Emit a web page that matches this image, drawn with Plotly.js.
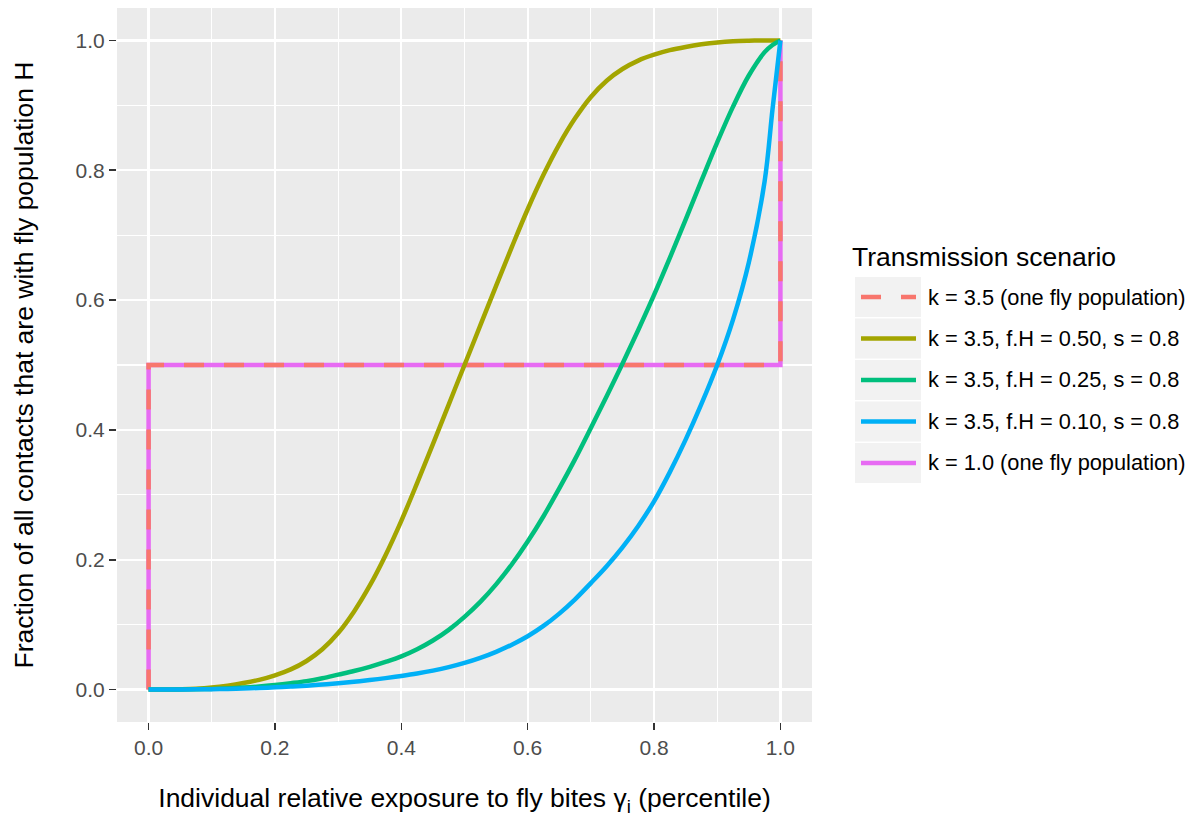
<!DOCTYPE html>
<html>
<head>
<meta charset="utf-8">
<script src="https://cdn.plot.ly/plotly-3.0.1.min.js"></script>
<style>html,body{margin:0;padding:0;background:#fff;}</style>
</head>
<body>
<div id="chart" style="width:1190px;height:819px;"></div>
<script>
// ---- data ----
const xGrid = [0, 0.025, 0.05, 0.075, 0.1, 0.125, 0.15, 0.175, 0.2, 0.225, 0.25, 0.275, 0.3, 0.325, 0.35, 0.375, 0.4, 0.425, 0.45, 0.475, 0.5,
               0.525, 0.55, 0.575, 0.6, 0.625, 0.65, 0.675, 0.7, 0.725, 0.75, 0.775, 0.8, 0.825, 0.85, 0.875, 0.9, 0.925, 0.95, 0.975, 0.9875, 1.0];
const yFH050 = [0, 0, 0.0004, 0.0012, 0.003, 0.006, 0.010, 0.015, 0.022, 0.031, 0.044, 0.062, 0.087, 0.120, 0.160, 0.207, 0.260, 0.318, 0.378, 0.439, 0.5,
                0.561, 0.622, 0.682, 0.740, 0.793, 0.840, 0.880, 0.913, 0.938, 0.956, 0.969, 0.978, 0.985, 0.990, 0.994, 0.997, 0.9988, 0.9996, 1.0, 1.0, 1.0];
const yFH025 = [0, 0, 0.0002, 0.0005, 0.001, 0.0018, 0.003, 0.0047, 0.007, 0.0098, 0.013, 0.0175, 0.023, 0.0285, 0.035, 0.0425, 0.051, 0.062, 0.0755, 0.092, 0.112,
                0.135, 0.162, 0.193, 0.228, 0.267, 0.310, 0.355, 0.403, 0.452, 0.502, 0.554, 0.608, 0.665, 0.724, 0.784, 0.843, 0.898, 0.946, 0.982, 0.993, 1.0];
const yFH010 = [0, 0, 0.0001, 0.0003, 0.0006, 0.001, 0.0016, 0.0024, 0.0034, 0.0046, 0.006, 0.0077, 0.0097, 0.012, 0.0146, 0.0176, 0.021, 0.0248, 0.0292, 0.0345, 0.041,
                0.0488, 0.0581, 0.0691, 0.0821, 0.098, 0.117, 0.139, 0.164, 0.190, 0.219, 0.252, 0.290, 0.335, 0.385, 0.440, 0.5, 0.570, 0.658, 0.783, 0.894, 1.0];
const xStep = [0, 0, 1, 1];
const yStep = [0, 0.5, 0.5, 1];
const seriesNames = [
  "k = 3.5 (one fly population)",
  "k = 3.5, f.H = 0.50, s = 0.8",
  "k = 3.5, f.H = 0.25, s = 0.8",
  "k = 3.5, f.H = 0.10, s = 0.8",
  "k = 1.0 (one fly population)"
];
const seriesColors = ["#F8766D", "#A3A500", "#00BF7D", "#00B0F6", "#E76BF3"];
const seriesDash = ["20px,20px", "solid", "solid", "solid", "solid"];
const tickVals = [0, 0.2, 0.4, 0.6, 0.8, 1.0];
const tickText = ["0.0", "0.2", "0.4", "0.6", "0.8", "1.0"];
const minorVals = [0.1, 0.3, 0.5, 0.7, 0.9];
const legendTitle = "Transmission scenario";
const xTitle = "Individual relative exposure to fly bites γ<sub>i</sub> (percentile)";
const yTitle = "Fraction of all contacts that are with fly population H";

// ---- traces ----
const LW = 4.5;
const FONT = "Liberation Sans, Arial, Helvetica, sans-serif";
function tr(x, y, i, shape) {
  return {
    x: x, y: y, type: "scatter", mode: "lines", name: seriesNames[i],
    line: {color: seriesColors[i], width: LW, dash: seriesDash[i], shape: shape, smoothing: 1},
    showlegend: false, hoverinfo: "x+y+name"
  };
}
const traces = [
  tr(xStep, yStep, 4, "linear"),
  tr(xStep, yStep, 0, "linear"),
  tr(xGrid, yFH050, 1, "spline"),
  tr(xGrid, yFH025, 2, "spline"),
  tr(xGrid, yFH010, 3, "spline")
];

// ---- geometry of plot panel in px ----
const W = 1190, H = 819;
const M = {l: 117, r: 378, t: 8, b: 97};
const pw = W - M.l - M.r, ph = H - M.t - M.b;
const px2x = p => (p - M.l) / pw;
const py2y = p => (H - M.b - p) / ph;

// ---- ggplot-style legend ----
const shapes = [];
const annotations = [];
annotations.push({
  xref: "paper", yref: "paper", x: px2x(850), y: py2y(257), xanchor: "left", yanchor: "middle",
  text: legendTitle, showarrow: false, font: {family: FONT, size: 26.5, color: "#000"}
});
for (let i = 0; i < seriesNames.length; i++) {
  const cy = 297 + i * 41.5;
  shapes.push({
    type: "rect", xref: "paper", yref: "paper",
    x0: px2x(855), x1: px2x(921), y0: py2y(cy - 20), y1: py2y(cy + 20),
    fillcolor: "#F2F2F2", line: {width: 0}, layer: "below"
  });
  shapes.push({
    type: "line", xref: "paper", yref: "paper",
    x0: px2x(861), x1: px2x(916), y0: py2y(cy), y1: py2y(cy),
    line: {color: seriesColors[i], width: LW, dash: seriesDash[i]}
  });
  annotations.push({
    xref: "paper", yref: "paper", x: px2x(926), y: py2y(cy), xanchor: "left", yanchor: "middle",
    text: seriesNames[i], showarrow: false, font: {family: FONT, size: 21.8, color: "#000"}
  });
}

const axisCommon = {
  range: [-0.05, 1.05], autorange: false,
  tickmode: "array", tickvals: tickVals, ticktext: tickText,
  ticks: "outside", ticklen: 7, tickwidth: 1.6, tickcolor: "#333333",
  tickfont: {family: FONT, size: 21, color: "#4D4D4D"},
  showgrid: true, gridcolor: "#FFFFFF", gridwidth: 2.2,
  minor: {tickmode: "array", tickvals: minorVals, showgrid: true, gridcolor: "#FFFFFF", gridwidth: 1.1, ticks: ""},
  zeroline: false, showline: false, fixedrange: true
};

const layout = {
  width: W, height: H,
  margin: M,
  paper_bgcolor: "#FFFFFF", plot_bgcolor: "#EBEBEB",
  showlegend: false,
  font: {family: FONT, color: "#000"},
  xaxis: Object.assign({}, axisCommon, {
    title: {text: xTitle, font: {family: FONT, size: 26.5, color: "#000"}, standoff: 30}
  }),
  yaxis: Object.assign({}, axisCommon, {
    title: {text: yTitle, font: {family: FONT, size: 26.5, color: "#000"}, standoff: 34}
  }),
  shapes: shapes,
  annotations: annotations
};

Plotly.newPlot("chart", traces, layout, {displayModeBar: false, staticPlot: true});
</script>
</body>
</html>
